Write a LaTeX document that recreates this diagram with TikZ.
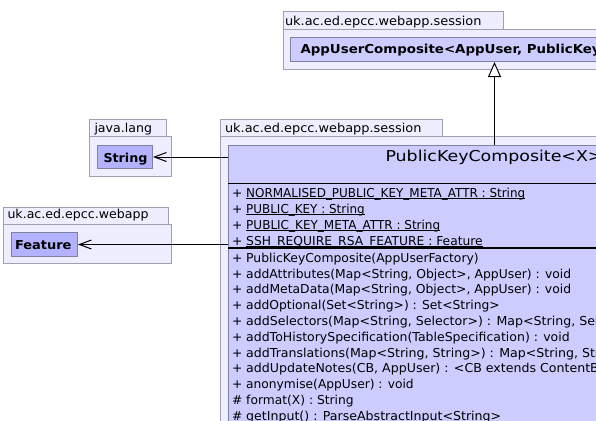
\documentclass[tikz,border=0pt]{standalone}
\usepackage{fontspec}
\usepackage{graphicx}
\setmainfont{DejaVu Sans}
\usetikzlibrary{arrows.meta}
\definecolor{pkgfill}{RGB}{238,238,255}
\definecolor{pkgline}{RGB}{160,160,178}
\definecolor{clsfill}{RGB}{204,204,255}
\definecolor{reffill}{RGB}{178,178,255}
\definecolor{clsline}{RGB}{128,128,160}
\newcommand\bodyf{\fontsize{12.3}{15}\selectfont}
\newcommand\uln[1]{\setbox0\hbox{#1}\rlap{\vrule height -1.4pt depth 2.4pt width \wd0}\box0}
\newcommand\fitw[2]{\resizebox{#1pt}{\height}{#2}}
\newlength\mlen
\newlength\blen
\begin{document}
\settowidth\mlen{\bodyf addAttributes(Map<String, Object>, AppUser) : void}
\settowidth\blen{\bodyf\bfseries Feature}
\pgfmathsetmacro\lowf{1.02*324.9/\mlen}
\pgfmathsetmacro\bfac{56.5/\blen}
\pgfmathsetmacro\bfacw{1.03*\bfac}
\begin{tikzpicture}[x=1pt,y=-1pt,
  pkg/.style={draw=pkgline, fill=pkgfill, line width=1pt},
  txt/.style={anchor=base west, inner sep=0pt, outer sep=0pt, font=\bodyf},
  btxt/.style={txt, font=\bodyf\bfseries},
  ttl/.style={txt, font=\fontsize{15}{18}\selectfont},
  refbox/.style={draw=clsline, fill=reffill, line width=1pt, inner sep=0pt, anchor=north west},
  clsbox/.style={draw=clsline, fill=clsfill, line width=1pt, inner sep=0pt, anchor=north west},
  dep/.style={line width=1pt, -{Straight Barb[length=12pt,width=9pt,line width=1pt]}},
  gen/.style={line width=1pt, -{Triangle[length=15pt,width=13pt,fill=white,line width=1pt]}}
]
\useasboundingbox (0,0) rectangle (596,420);
\clip (0,0) rectangle (596,420);
\fill[white] (0,0) rectangle (596,420);

% top package
\draw[pkg] (283,11.5) rectangle (503,29.5);
\draw[pkg] (283,29.5) rectangle (820,69);
\node[txt] (ptop) at (285,25.5) {\fitw{196.5}{uk.ac.ed.epcc.webapp.session}};
\node[clsbox, minimum width=408pt, minimum height=23.5pt] (auc) at (290,37.5) {};
\node[btxt] (auct) at (300.5,53.5) {\scalebox{\bfacw}[1]{AppUserComposite<AppUser, PublicKeyComposite<X>>}};

% java.lang
\draw[pkg] (89,119.5) rectangle (166,136);
\draw[pkg] (89,136) rectangle (171,176);
\node[txt] (pjl) at (94.5,132.5) {\fitw{57.5}{java.lang}};
\node[refbox, minimum width=55pt, minimum height=23pt] (str) at (97,145) {};
\node[btxt] (strt) at (103.5,162.5) {\fitw{44}{String}};

% webapp
\draw[pkg] (3,207.5) rectangle (168,224);
\draw[pkg] (3,224) rectangle (171,263);
\node[txt] (pwa) at (7.5,218.5) {\fitw{141}{uk.ac.ed.epcc.webapp}};
\node[refbox, minimum width=66pt, minimum height=24pt] (feat) at (11,232) {};
\node[btxt] (featt) at (15,249.5) {\scalebox{\bfac}[1]{Feature}};

% main package
\draw[pkg] (220,119.5) rectangle (442,136);
\draw[pkg] (220,136) rectangle (820,640);
\node[txt] (pmain) at (225,132.5) {\fitw{196.5}{uk.ac.ed.epcc.webapp.session}};
\node[clsbox, minimum width=524pt, minimum height=480pt] (pkc) at (228,144.5) {};
\node[ttl] (pkct) at (385.5,161.5) {\fitw{217}{PublicKeyComposite<X>}};
\draw[line width=1pt] (pkc.west |- 0,183) -- (pkc.east |- 0,183);
\draw[line width=2pt] (pkc.west |- 0,247.5) -- (pkc.east |- 0,247.5);

\node[txt] (a1) at (232,197) {+ \fitw{279}{\uln{NORMALISED\_PUBLIC\_KEY\_META\_ATTR : String}}};
\node[txt] (a2) at (232,213) {+ \fitw{118.5}{\uln{PUBLIC\_KEY : String}}};
\node[txt] (a3) at (232,229) {+ \fitw{194}{\uln{PUBLIC\_KEY\_META\_ATTR : String}}};
\node[txt] (a4) at (232,245) {+ \fitw{236.5}{\uln{SSH\_REQUIRE\_RSA\_FEATURE : Feature}}};

\node[txt] (m1) at (232,262.3) {+ \fitw{232.5}{PublicKeyComposite(AppUserFactory)}};
\node[txt] (m2) at (232,278.1) {+ \fitw{324.9}{addAttributes(Map<String, Object>, AppUser) : void}};
\node[txt] (m3) at (232,293.9) {+ \fitw{324.9}{addMetaData(Map<String, Object>, AppUser) : void}};
\node[txt] (m4) at (232,309.7) {+ \fitw{253.5}{addOptional(Set<String>) : Set<String>}};
\node[txt] (m5) at (232,325.5) {+ \scalebox{\lowf}[1]{addSelectors(Map<String, Selector>) : Map<String, Selector>}};
\node[txt] (m6) at (232,341.3) {+ \fitw{323.5}{addToHistorySpecification(TableSpecification) : void}};
\node[txt] (m7) at (232,357.1) {+ \scalebox{\lowf}[1]{addTranslations(Map<String, String>) : Map<String, String>}};
\node[txt] (m8) at (232,372.9) {+ \scalebox{\lowf}[1]{addUpdateNotes(CB, AppUser) : <CB extends ContentBuilder> CB}};
\node[txt] (m9) at (232,388.7) {+ \fitw{167.5}{anonymise(AppUser) : void}};
\node[txt] (m10) at (232,404.5) {\# \fitw{107.5}{format(X) : String}};
\node[txt] (m11) at (232,420.3) {\# \scalebox{\lowf}[1]{getInput() : ParseAbstractInput<String>}};

% connectors
\draw[gen] (pkc.north -| auc.south) -- (auc.south);
\draw[dep] (pkc.west |- str.east) -- (str.east);
\draw[dep] (pkc.west |- feat.east) -- (feat.east);
\end{tikzpicture}
\end{document}
